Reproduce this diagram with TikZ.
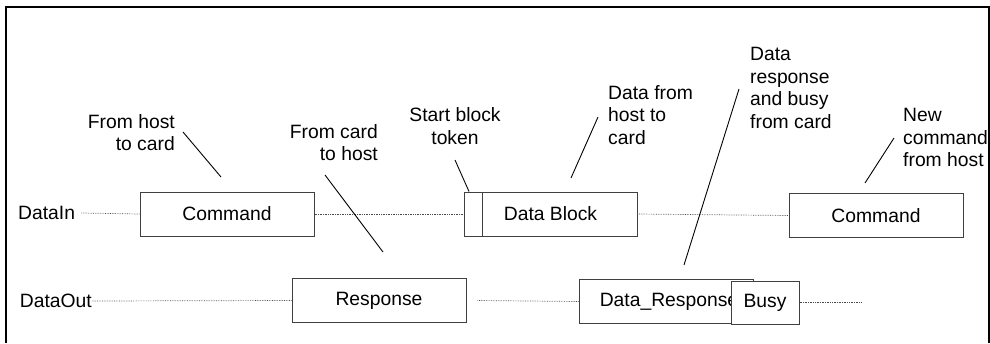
\documentclass[tikz,border=0pt]{standalone}
\usepackage{fontspec}
\setmainfont{Liberation Sans}
\usetikzlibrary{positioning}

\begin{document}
\begin{tikzpicture}[x=1pt, y=-1pt,
    box/.style={rectangle, draw=black!75, line width=1pt, fill=white, minimum width=174pt, minimum height=44pt, inner sep=0pt, font=\fontsize{19.3}{22.5}\selectfont},
    sig/.style={densely dotted, line width=0.7pt, black!70},
    note/.style={inner sep=0pt, font=\fontsize{19.3}{22.5}\selectfont},
    ptr/.style={black, line width=0.9pt}]
            \useasboundingbox (0,0) rectangle (990,343);
            \draw[line width=2pt] (6,343) -- (6,7) -- (988.5,7) -- (988.5,343);

            \node[note, anchor=west] (din) at (18,213) {DataIn};
            \node[note, anchor=east] (dout) at (92,301) {DataOut};

            \node[box] (cmdA) at (227,214) {Command};
            \node[box, minimum width=173pt] (blk) at (550.5,214) {Data Block};
            \node[box, minimum width=18pt] (tok) at (473,214) {};
            \node[box] (cmdB) at (876,215.5) {Command};

            \node[box] (resp) at (379,300.5) {Response};
            \node[box] (drsp) at (666,301.5) {\hspace*{6pt}Data\_Response};
            \node[box, minimum width=68pt, minimum height=43pt] (busy) at (765,302.5) {Busy};

            \node[note, anchor=east, align=right] (nHost) at (175,132.5) {From host\\to card};
            \node[note, anchor=east, align=right] (nCard) at (378,142.5) {From card\\to host};
            \node[note, align=center] (nTok) at (455,126) {Start block\\token};
            \node[note, anchor=west, align=left] (nBlk) at (608,115) {Data from\\host to\\card};
            \node[note, anchor=west, align=left] (nResp) at (750,88) {Data\\response\\and busy\\from card};
            \node[note, anchor=west, align=left] (nNew) at (903,137.5) {New\\command\\from host};

            \coordinate (hostA) at (183,132);
            \coordinate (hostB) at (221,177);
            \coordinate (cardA) at (325,175);
            \coordinate (cardB) at (383,252);
            \coordinate (tokA) at (455,160);
            \coordinate (blkA) at (598,117);
            \coordinate (blkB) at (571,178);
            \coordinate (respA) at (739,89);
            \coordinate (respB) at (684,265);
            \coordinate (newA) at (894,138);
            \coordinate (newB) at (865,183);
            \coordinate (outEnd) at (862,302.5);

            \draw[sig] ([xshift=6pt]din.east) -- (cmdA.west);
            \draw[sig] (cmdA.east) -- (tok.west);
            \draw[sig] (blk.east) -- (cmdB.west);
            \draw[sig] (dout.east) -- (resp.west);
            \draw[sig] ([xshift=11pt]resp.east) -- (drsp.west);
            \draw[sig] (busy.east) -- (outEnd);

            \draw[ptr] (hostA) -- (hostB);
            \draw[ptr] (cardA) -- (cardB);
            \draw[ptr] (tokA) -- ([xshift=-4pt]tok.north);
            \draw[ptr] (blkA) -- (blkB);
            \draw[ptr] (respA) -- (respB);
            \draw[ptr] (newA) -- (newB);
        \end{tikzpicture}
\end{document}
